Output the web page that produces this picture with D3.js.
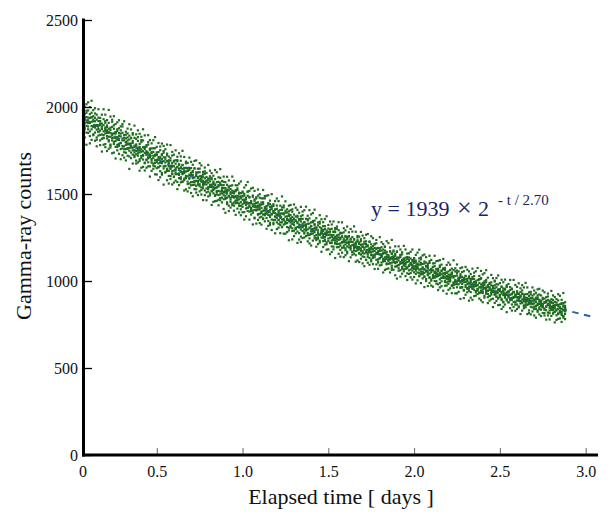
<!DOCTYPE html>
<html>
<head>
<meta charset="utf-8">
<script src="https://cdnjs.cloudflare.com/ajax/libs/d3/7.8.5/d3.min.js"></script>
<style>
body { margin: 0; background: #fff; }
svg text { font-family: "Liberation Serif", "Times New Roman", serif; }
</style>
</head>
<body>
<svg id="chart" width="608" height="512"></svg>
<script>
// sample times in days
const times = [
  0.07,0.08,0.09,
  0.10,0.11,0.12,0.13,0.14,0.15,0.16,0.17,0.18,0.19,
  0.20,0.21,0.22,0.23,0.24,0.25,0.26,0.27,0.28,0.29,
  0.30,0.31,0.32,0.33,0.34,0.35,0.36,0.37,0.38,0.39,
  0.40,0.41,0.42,0.43,0.44,0.45,0.46,0.47,0.48,0.49,
  0.50,0.51,0.52,0.53,0.54,0.55,0.56,0.57,0.58,0.59,
  0.60,0.61,0.62,0.63,0.64,0.65,0.66,0.67,0.68,0.69,
  0.70,0.71,0.72,0.73,0.74,0.75,0.76,0.77,0.78,0.79,
  0.80,0.81,0.82,0.83,0.84,0.85,0.86,0.87,0.88,0.89,
  0.90,0.91,0.92,0.93,0.94,0.95,0.96,0.97,0.98,0.99,
  1.00,1.01,1.02,1.03,1.04,1.05,1.06,1.07,1.08,1.09,
  1.10,1.11,1.12,1.13,1.14,1.15,1.16,1.17,1.18,1.19,
  1.20,1.21,1.22,1.23,1.24,1.25,1.26,1.27,1.28,1.29,
  1.30,1.31,1.32,1.33,1.34,1.35,1.36,1.37,1.38,1.39,
  1.40,1.41,1.42,1.43,1.44,1.45,1.46,1.47,1.48,1.49,
  1.50,1.51,1.52,1.53,1.54,1.55,1.56,1.57,1.58,1.59,
  1.60,1.61,1.62,1.63,1.64,1.65,1.66,1.67,1.68,1.69,
  1.70,1.71,1.72,1.73,1.74,1.75,1.76,1.77,1.78,1.79,
  1.80,1.81,1.82,1.83,1.84,1.85,1.86,1.87,1.88,1.89,
  1.90,1.91,1.92,1.93,1.94,1.95,1.96,1.97,1.98,1.99,
  2.00,2.01,2.02,2.03,2.04,2.05,2.06,2.07,2.08,2.09,
  2.10,2.11,2.12,2.13,2.14,2.15,2.16,2.17,2.18,2.19,
  2.20,2.21,2.22,2.23,2.24,2.25,2.26,2.27,2.28,2.29,
  2.30,2.31,2.32,2.33,2.34,2.35,2.36,2.37,2.38,2.39,
  2.40,2.41,2.42,2.43,2.44,2.45,2.46,2.47,2.48,2.49,
  2.50,2.51,2.52,2.53,2.54,2.55,2.56,2.57,2.58,2.59,
  2.60,2.61,2.62,2.63,2.64,2.65,2.66,2.67,2.68,2.69,
  2.70,2.71,2.72,2.73,2.74,2.75,2.76,2.77,2.78,2.79,
  2.80,2.81,2.82,2.83,2.84,2.85,2.86,2.87,2.88
];

// readings per time, detector A
const countsA = [
  [1949,1898,1987,1929],[1907,1960,1932,1871],[1967,1912,1853,1942],
  [1924,1888,1980,1872],[1908,1937,1860,1999],[1941,1890,1915,1872],[1838,1918,1947,1892],[1918,1853,1892,1963],
  [1870,1894,1927,1812],[1939,1858,1895,1874],[1840,1919,1864,1905],[1874,1817,1905,1888],[1839,1930,1860,1823],
  [1882,1848,1909,1769],[1851,1885,1819,1866],[1909,1829,1857,1802],[1829,1881,1778,1867],[1847,1808,1915,1837],
  [1788,1848,1824,1875],[1856,1771,1847,1804],[1812,1872,1783,1826],[1850,1810,1878,1788],[1758,1831,1794,1847],
  [1819,1762,1808,1888],[1774,1839,1740,1809],[1841,1783,1820,1758],[1785,1848,1760,1807],[1813,1716,1790,1765],
  [1738,1790,1823,1776],[1841,1751,1766,1805],[1752,1771,1721,1823],[1785,1728,1777,1692],[1749,1805,1734,1766],
  [1788,1700,1771,1739],[1719,1757,1810,1707],[1746,1724,1769,1656],[1680,1771,1736,1758],[1746,1698,1781,1724],
  [1705,1798,1682,1738],[1761,1711,1727,1659],[1680,1741,1701,1762],[1720,1663,1742,1707],[1694,1763,1679,1726],
  [1727,1695,1648,1739],[1653,1712,1699,1676],[1752,1661,1713,1680],[1684,1729,1621,1700],[1711,1659,1689,1776],
  [1627,1681,1662,1711],[1689,1632,1723,1645],[1659,1694,1633,1677],[1706,1603,1662,1644],[1631,1721,1615,1678],
  [1660,1635,1687,1600],[1614,1694,1637,1648],[1695,1614,1657,1569],[1618,1644,1591,1668],[1654,1628,1691,1596],
  [1570,1645,1614,1667],[1627,1579,1650,1620],[1591,1686,1596,1629],[1650,1602,1557,1636],[1592,1639,1611,1560],
  [1622,1568,1610,1649],[1552,1609,1591,1626],[1595,1569,1647,1554],[1576,1624,1527,1604],[1624,1566,1592,1554],
  [1545,1583,1602,1646],[1587,1523,1571,1604],[1548,1613,1533,1576],[1591,1556,1616,1520],[1555,1578,1532,1621],
  [1589,1514,1565,1539],[1492,1573,1552,1589],[1554,1519,1593,1539],[1504,1556,1528,1571],[1586,1533,1489,1554],
  [1512,1568,1537,1498],[1551,1467,1543,1518],[1514,1564,1498,1593],[1550,1504,1519,1479],[1470,1534,1570,1508],
  [1520,1477,1490,1534],[1502,1553,1452,1514],[1537,1488,1521,1433],[1468,1499,1528,1479],[1507,1445,1550,1489],
  [1433,1514,1479,1505],[1488,1462,1522,1447],[1462,1532,1448,1490],[1502,1469,1432,1508],[1432,1476,1486,1412],
  [1508,1441,1467,1489],[1449,1491,1396,1467],[1476,1417,1469,1436],[1445,1514,1421,1490],[1480,1434,1448,1399],
  [1402,1459,1420,1447],[1440,1484,1429,1405],[1408,1444,1469,1360],[1481,1411,1426,1449],[1411,1452,1381,1433],
  [1440,1386,1479,1411],[1369,1420,1439,1391],[1442,1404,1356,1453],[1405,1424,1378,1475],[1429,1362,1415,1387],
  [1380,1438,1395,1402],[1442,1368,1409,1334],[1382,1413,1353,1422],[1400,1335,1392,1431],[1351,1390,1410,1370],
  [1415,1363,1378,1434],[1350,1403,1328,1383],[1376,1337,1388,1363],[1311,1409,1354,1388],[1389,1357,1423,1324],
  [1341,1370,1331,1393],[1394,1310,1357,1333],[1344,1374,1400,1291],[1361,1318,1336,1378],[1303,1398,1350,1328],
  [1359,1336,1289,1355],[1306,1371,1348,1298],[1339,1310,1375,1332],[1275,1352,1318,1356],[1356,1309,1342,1255],
  [1314,1378,1287,1329],[1339,1273,1320,1296],[1294,1325,1307,1358],[1348,1276,1329,1297],[1265,1307,1245,1330],
  [1316,1286,1337,1272],[1287,1345,1273,1298],[1320,1245,1304,1327],[1264,1295,1247,1306],[1336,1268,1279,1251],
  [1267,1309,1341,1231],[1282,1250,1292,1276],[1229,1293,1260,1316],[1299,1231,1274,1252],[1263,1278,1211,1290],
  [1282,1230,1265,1301],[1218,1267,1249,1283],[1255,1233,1300,1219],[1235,1283,1197,1264],[1281,1233,1253,1220],
  [1212,1245,1261,1300],[1251,1195,1236,1266],[1216,1273,1203,1240],[1254,1224,1275,1191],[1223,1243,1203,1280],
  [1254,1188,1233,1210],[1169,1239,1221,1253],[1223,1193,1257,1210],[1180,1225,1201,1238],[1252,1206,1167,1224],
  [1189,1237,1210,1176],[1222,1148,1215,1193],[1190,1234,1176,1259],[1222,1182,1195,1160],[1152,1208,1240,1186],
  [1197,1160,1171,1210],[1181,1226,1138,1192],[1212,1169,1198,1121],[1152,1179,1205,1162],[1187,1133,1224,1171],
  [1123,1194,1163,1186],[1170,1147,1200,1135],[1149,1210,1137,1173],[1184,1155,1122,1188],[1124,1162,1171,1106],
  [1189,1131,1153,1173],[1139,1175,1092,1154],[1163,1112,1157,1128],[1136,1196,1115,1175],[1167,1127,1139,1096],
  [1099,1149,1115,1138],[1133,1171,1123,1102],[1106,1137,1159,1064],[1169,1108,1121,1142],[1109,1145,1083,1128],
  [1134,1087,1167,1108],[1073,1118,1134,1092],[1137,1104,1062,1147],[1104,1121,1081,1165],[1126,1067,1114,1089],
  [1084,1134,1097,1103],[1138,1073,1109,1044],[1086,1113,1061,1121],[1102,1046,1095,1129],[1060,1094,1112,1077],
  [1115,1070,1083,1132],[1060,1106,1041,1089],[1083,1049,1094,1072],[1027,1112,1065,1094],[1095,1068,1125,1039],
  [1053,1078,1044,1098],[1100,1026,1068,1047],[1057,1083,1106,1011],[1072,1034,1050,1087],[1021,1104,1062,1043],
  [1070,1050,1009,1067],[1024,1081,1061,1018],[1054,1029,1085,1048],[999,1066,1036,1069],[1070,1029,1057,981],
  [1034,1089,1010,1047],[1056,998,1039,1018],[1017,1044,1029,1073],[1064,1001,1047,1019],[992,1028,974,1048],
  [1037,1011,1055,998],[1012,1063,1000,1021],[1040,975,1026,1046],[992,1019,977,1029],[1055,996,1005,981],
  [996,1032,1060,964],[1009,981,1018,1004],[963,1019,991,1039],[1024,965,1002,983],[993,1006,948,1017],
  [1010,965,995,1027],[955,998,982,1012],[988,968,1027,956],[970,1012,936,995],[1011,969,986,957],
  [950,980,994,1028],[984,935,971,998],[955,1005,944,976],[989,963,1008,934],[962,980,945,1013],
  [989,931,971,950],[915,977,961,989],[963,937,993,952],[925,965,943,976],[989,948,914,964],
  [933,975,951,922],[963,898,957,938],[936,975,924,997],[964,928,940,909],[902,952,980,933],
  [942,909,919,953],[928,968,890,938],[957,919,945,877],[904,928,951,913],[935,888,968,921],
  [878,941,914,934],[921,901,948,890],[903,956,892,924],[934,908,879,938],[881,914,922,865],
  [940,888,908,925],[895,927,854,908],[916,871,911,885],[894,946,875,928],[921,885,896,858],
  [861,905,875,895],[892,925,883,864],[868,895,914,831],[924,870,881,900],[871,902,848,887],
  [894,852,923,871],[840,880,894,857],[897,868,831,906],[868,883,848,922],[887,835,877,855],
  [851,895,862,867],[899,842,874,816],[854,878,832,885],[868,818,862,891],[830,860,876,845],
  [880,841,852,895],[832,872,814,857],[852,822,862,843],[803,877,836,862],[863,840,889,814],
  [827,849,819,866],[869,804,841,822],[831,853,873,798],[844,811,825,857]
];

// readings per time, detector B
const countsB = [
  [1850,1975,2053,1915],[2001,1825,1944,1881],[1892,2016,1783,1979],
  [2027,1851,1939,1908],[1833,1959,1791,1913],[1967,1811,1941,2036],[1886,1982,1843,1927],[1993,1882,1806,1938],
  [1825,1956,1897,1774],[1919,1836,1987,1857],[1781,1896,1937,1808],[1956,1842,1744,1877],[1821,1987,1896,1783],
  [1919,1787,1873,1956],[1747,1894,1833,1925],[1875,1760,1983,1809],[1784,1945,1850,1768],[1927,1821,1734,1886],
  [1800,1895,1947,1738],[1902,1704,1856,1820],[1770,1912,1751,1862],[1924,1777,1834,1731],[1792,1866,1700,1889],
  [1852,1723,1902,1776],[1709,1824,1757,1918],[1858,1737,1799,1693],[1763,1876,1720,1825],[1901,1749,1835,1644],
  [1706,1821,1767,1871],[1794,1675,1850,1726],[1712,1893,1739,1778],[1843,1747,1675,1817],[1720,1827,1866,1681],
  [1846,1689,1765,1634],[1743,1798,1651,1829],[1808,1698,1872,1720],[1635,1764,1677,1837],[1772,1651,1738,1694],
  [1659,1838,1711,1784],[1810,1600,1754,1716],[1692,1791,1633,1735],[1763,1675,1809,1645],[1613,1720,1659,1827],
  [1771,1612,1725,1683],[1655,1793,1580,1741],[1704,1631,1773,1596],[1611,1724,1677,1790],[1738,1554,1747,1647],
  [1660,1757,1623,1699],[1784,1643,1579,1732],[1604,1715,1682,1560],[1692,1586,1781,1651],[1555,1663,1617,1742],
  [1726,1598,1691,1566],[1623,1751,1577,1674],[1688,1528,1653,1714],[1551,1671,1610,1734],[1649,1567,1716,1586],
  [1572,1748,1619,1666],[1713,1588,1520,1636],[1604,1676,1650,1527],[1679,1515,1632,1571],[1536,1650,1709,1588],
  [1685,1550,1612,1506],[1569,1668,1487,1632],[1647,1575,1690,1528],[1508,1614,1547,1693],[1597,1494,1645,1575],
  [1515,1677,1556,1625],[1664,1538,1497,1593],[1558,1627,1600,1465],[1630,1493,1569,1652],[1464,1598,1509,1571],
  [1582,1530,1667,1486],[1503,1634,1541,1602],[1620,1437,1585,1515],[1522,1605,1455,1564],[1638,1495,1553,1459],
  [1461,1539,1625,1517],[1570,1435,1494,1596],[1464,1552,1643,1477],[1534,1452,1575,1521],[1414,1600,1493,1551],
  [1568,1471,1516,1392],[1478,1599,1442,1525],[1578,1486,1402,1543],[1455,1547,1510,1422],[1600,1436,1519,1483],
  [1404,1505,1451,1576],[1516,1380,1550,1461],[1416,1550,1473,1523],[1560,1445,1394,1485],[1453,1572,1505,1378],
  [1514,1395,1486,1426],[1353,1501,1448,1537],[1479,1372,1551,1450],[1402,1513,1420,1569],[1518,1427,1353,1483],
  [1409,1531,1451,1382],[1536,1392,1491,1325],[1426,1461,1364,1518],[1474,1330,1447,1405],[1351,1491,1385,1526],
  [1432,1365,1499,1333],[1324,1451,1399,1475],[1475,1382,1523,1360],[1387,1488,1343,1415],[1490,1300,1430,1393],
  [1345,1448,1317,1493],[1425,1377,1462,1323],[1293,1499,1385,1432],[1441,1326,1402,1351],[1370,1459,1274,1411],
  [1474,1337,1383,1298],[1307,1393,1459,1351],[1408,1275,1322,1433],[1337,1423,1486,1309],[1434,1348,1272,1383],
  [1272,1458,1331,1404],[1371,1281,1412,1351],[1306,1433,1234,1383],[1407,1308,1355,1437],[1239,1367,1287,1412],
  [1382,1258,1440,1321],[1274,1346,1303,1421],[1409,1219,1366,1284],[1308,1392,1238,1350],[1426,1296,1372,1224],
  [1247,1357,1309,1399],[1336,1250,1407,1279],[1258,1427,1290,1316],[1375,1263,1228,1354],[1267,1360,1407,1216],
  [1383,1204,1314,1270],[1292,1338,1232,1391],[1347,1258,1410,1280],[1197,1307,1235,1361],[1320,1212,1291,1243],
  [1221,1378,1265,1330],[1355,1168,1304,1272],[1248,1338,1195,1288],[1315,1237,1356,1209],[1180,1277,1222,1372],
  [1322,1182,1281,1244],[1220,1342,1154,1296],[1264,1199,1325,1167],[1182,1283,1241,1342],[1296,1132,1304,1215],
  [1227,1313,1194,1261],[1338,1213,1156,1292],[1179,1278,1248,1140],[1257,1163,1337,1221],[1137,1233,1192,1303],
  [1291,1177,1259,1148],[1199,1313,1159,1245],[1257,1114,1226,1280],[1136,1243,1189,1299],[1224,1151,1284,1168],
  [1157,1314,1199,1241],[1283,1172,1111,1214],[1186,1250,1227,1118],[1255,1109,1213,1158],[1128,1229,1282,1174],
  [1261,1141,1196,1101],[1158,1246,1085,1214],[1228,1164,1266,1122],[1105,1199,1139,1270],[1184,1093,1227,1165],
  [1113,1257,1149,1211],[1246,1134,1097,1183],[1152,1214,1190,1069],[1217,1095,1162,1236],[1070,1190,1110,1166],
  [1176,1130,1252,1090],[1106,1223,1140,1194],[1212,1049,1181,1118],[1124,1198,1064,1162],[1229,1101,1153,1069],
  [1072,1141,1218,1122],[1169,1049,1102,1192],[1076,1155,1236,1088],[1138,1065,1175,1127],[1033,1199,1103,1155],
  [1170,1084,1124,1014],[1091,1199,1059,1133],[1181,1099,1025,1150],[1071,1153,1120,1042],[1202,1056,1130,1098],
  [1028,1118,1070,1181],[1127,1006,1158,1078],[1040,1159,1090,1135],[1168,1066,1021,1102],[1075,1181,1121,1008],
  [1128,1023,1104,1050],[986,1117,1070,1150],[1099,1004,1163,1074],[1031,1130,1047,1180],[1135,1054,988,1104],
  [1039,1147,1076,1015],[1152,1024,1112,965],[1055,1086,1000,1137],[1099,971,1075,1038],[989,1114,1019,1145],
  [1062,1002,1121,974],[967,1080,1034,1101],[1102,1019,1145,1000],[1024,1114,985,1049],[1116,948,1063,1030],
  [988,1080,963,1120],[1061,1018,1094,970],[944,1127,1026,1067],[1075,973,1040,995],[1012,1092,927,1049],
  [1106,984,1025,949],[958,1035,1094,998],[1049,930,972,1071],[986,1063,1119,961],[1073,996,929,1028],
  [929,1095,982,1047],[1018,938,1055,1000],[961,1074,897,1029],[1051,963,1005,1078],[902,1016,945,1056],
  [1030,921,1081,976],[935,999,960,1065],[1055,887,1017,944],[966,1040,904,1003],[1071,956,1023,892],
  [913,1011,968,1048],[993,916,1056,942],[925,1075,953,976],[1029,930,899,1011],[934,1017,1058,889],
  [1038,878,976,937],[957,998,904,1045],[1006,927,1062,946],[873,971,907,1019],[983,887,957,914],
  [895,1035,934,992],[1016,850,971,942],[921,1002,874,957],[981,911,1017,886],[861,948,899,1032],
  [988,863,952,919],[898,1007,839,966],[938,881,993,852],[865,955,918,1008],[967,821,975,895],
  [906,983,877,937],[1006,895,844,965],[865,953,927,830],[936,851,1006,903],[829,914,878,977],
  [966,865,939,839],[885,987,849,926],[937,810,910,958],[830,926,877,976],[909,844,963,859],
  [849,989,886,924],[963,864,810,902],[877,935,914,816],[938,808,901,852],[825,916,963,867],
  [945,838,887,802],[854,932,789,904],[918,861,952,823],[808,892,838,955],[879,798,917,862],
  [816,945,848,903],[935,835,802,879],[852,907,886,778],[911,802,862,928],[779,886,815,865],
  [875,834,943,799],[813,917,843,891],[908,762,880,824],[830,896,776,864],[924,810,856,782],
  [785,846,915,829],[872,765,812,892],[789,859,931,799],[846,781,878,836]
];

// fitted decay curve
const fitTimes  = [0.07, 0.5, 1.0, 1.5, 2.0, 2.5, 2.9, 3.03];
const fitCounts = [1935, 1701, 1464, 1260, 1084, 933, 828, 797];

const xTicks = [0.5, 1.0, 1.5, 2.0, 2.5, 3.0];
const yTicks = [0, 500, 1000, 1500, 2000, 2500];
const fitA = 1939, fitHalf = '2.70';

const svg = d3.select('#chart');

const x = d3.scaleLinear().domain([0.07, 3.072]).range([83, 598]);
const y = d3.scaleLinear().domain([0, 2500]).range([455, 20]);

// dashed fit line under the points
const fit = d3.line()
  .x((d, i) => x(fitTimes[i]))
  .y(d => y(d))
  .curve(d3.curveMonotoneX);

svg.append('path')
  .datum(fitCounts)
  .attr('d', fit)
  .attr('fill', 'none')
  .attr('stroke', '#2d5da8')
  .attr('stroke-width', 2)
  .attr('stroke-dasharray', '6.5,5.5');

var pts = [];
times.forEach((t, i) => {
  countsA[i].forEach(c => pts.push({t: t, c: c}));
  countsB[i].forEach(c => pts.push({t: t, c: c}));
});

svg.append('g')
  .attr('fill', '#1e6b1e')
  .selectAll('rect').data(pts).enter()
  .append('rect')
  .attr('x', d => x(d.t) - 1.1)
  .attr('y', d => y(d.c) - 1.1)
  .attr('width', 2.2)
  .attr('height', 2.2);

// axes
const yAxis = d3.axisLeft(y)
  .tickValues(yTicks)
  .tickSizeInner(-9)
  .tickSizeOuter(0)
  .tickPadding(5)
  .tickFormat(d3.format('d'));

const gy = svg.append('g').attr('transform', 'translate(83,0)').call(yAxis);
gy.select('.domain').remove();
gy.selectAll('.tick line').attr('stroke', '#000').attr('stroke-width', 1.3);
gy.selectAll('.tick text').attr('font-size', 16).attr('fill', '#111')
  .attr('font-family', '"Liberation Serif", "Times New Roman", serif');

const xAxis = d3.axisBottom(x)
  .tickValues(xTicks)
  .tickSizeInner(-7)
  .tickSizeOuter(0)
  .tickPadding(10.5)
  .tickFormat(d3.format('.1f'));

const gx = svg.append('g').attr('transform', 'translate(0,455)').call(xAxis);
gx.select('.domain').remove();
gx.selectAll('.tick line').attr('stroke', '#666').attr('stroke-width', 1);
gx.selectAll('.tick text').attr('font-size', 16).attr('fill', '#111')
  .attr('font-family', '"Liberation Serif", "Times New Roman", serif');

// origin label for the time axis
svg.append('text')
  .attr('x', 83).attr('y', 477)
  .attr('text-anchor', 'middle')
  .attr('font-size', 16).attr('fill', '#111')
  .text('0');

svg.append('line')
  .attr('x1', 83.5).attr('x2', 83.5)
  .attr('y1', 18.5).attr('y2', 456.5)
  .attr('stroke', '#000').attr('stroke-width', 3);

svg.append('line')
  .attr('x1', 82).attr('x2', 598)
  .attr('y1', 455).attr('y2', 455)
  .attr('stroke', '#000').attr('stroke-width', 3);

svg.append('text')
  .attr('x', 341).attr('y', 503.5)
  .attr('text-anchor', 'middle')
  .attr('font-size', 22).attr('fill', '#111')
  .text('Elapsed time [ days ]');

svg.append('text')
  .attr('transform', 'translate(31,236) rotate(-90)')
  .attr('text-anchor', 'middle')
  .attr('font-size', 22).attr('fill', '#111')
  .text('Gamma-ray counts');

// fit equation
const eq = svg.append('text')
  .attr('y', 216)
  .attr('fill', '#1b2464')
  .attr('font-size', 22);
eq.append('tspan').attr('x', 371).text('y = ' + fitA);
eq.append('tspan').attr('x', 457).attr('font-size', 26).text('\u00d7');
eq.append('tspan').attr('x', 478).text('2');
eq.append('tspan').attr('x', 498).attr('y', 205).attr('font-size', 15).text('- t / ' + fitHalf);
</script>
</body>
</html>
